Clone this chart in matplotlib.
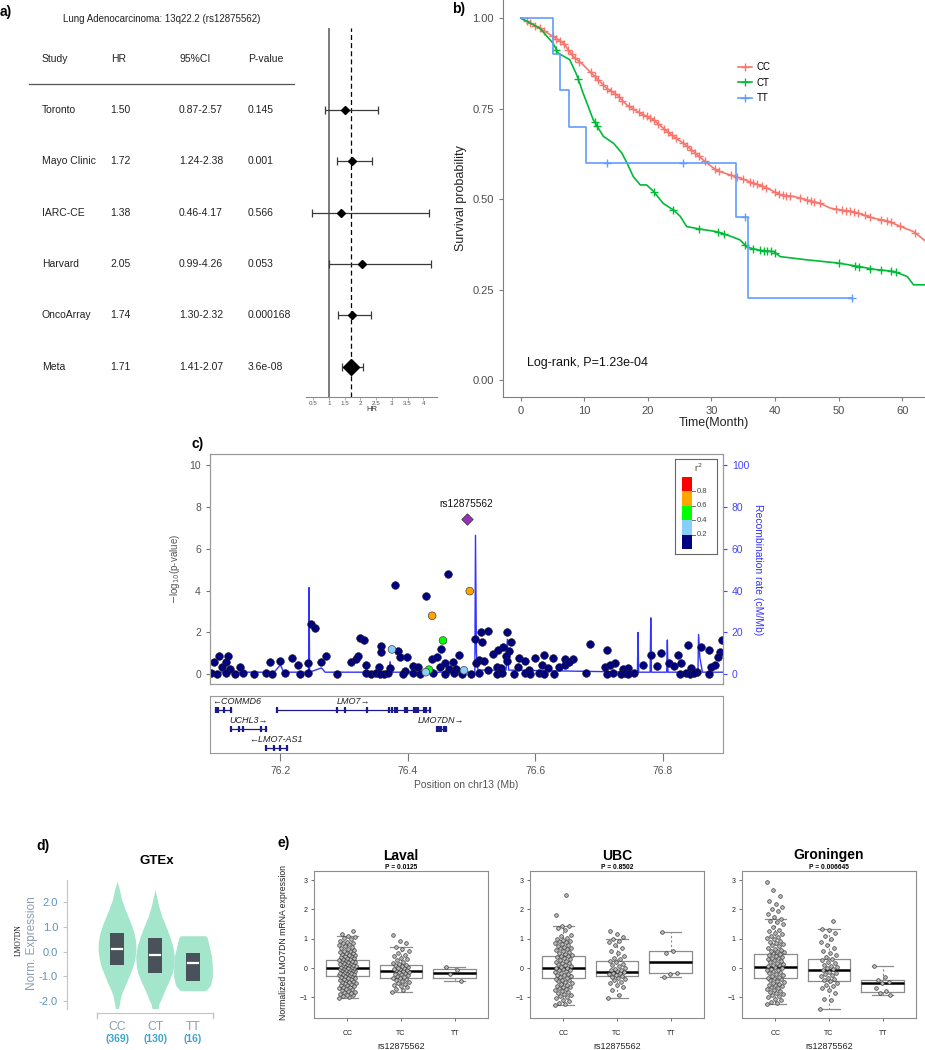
import numpy as np
import matplotlib
matplotlib.use("Agg")
import matplotlib.pyplot as plt
import matplotlib.transforms as mtransforms
from matplotlib.lines import Line2D
from matplotlib.patches import Rectangle

plt.rcParams["font.family"] = ["Liberation Sans", "DejaVu Sans"]

# ── a) forest plot data ─────────────────────────────────────────────────────
STUDIES = ["Toronto", "Mayo Clinic", "IARC-CE", "Harvard", "OncoArray", "Meta"]
HR = [1.50, 1.72, 1.38, 2.05, 1.74, 1.71]
CI_LO = [0.87, 1.24, 0.46, 0.99, 1.30, 1.41]
CI_HI = [2.57, 2.38, 4.17, 4.26, 2.32, 2.07]
PVAL = ["0.145", "0.001", "0.566", "0.053", "0.000168", "3.6e-08"]
HR_TICKS = [0.5, 1, 1.5, 2, 2.5, 3, 3.5, 4]

# ── b) Kaplan-Meier curves (read from picture) ──────────────────────────────
CC_T = [0, 3, 5.1, 6.7, 8.25, 9.8, 11.9, 13.5, 15.1, 16.7, 18.8, 20.9, 22.4, 24.0,
        25.6, 27.2, 28.7, 30.8, 32.9, 34.5, 36.6, 38.2, 39.8, 40.8, 43, 45, 47.1,
        48.7, 50.3, 52.4, 54, 55.5, 57.6, 59.8, 61.8, 63.6]
CC_S = [1.0, 0.972, 0.949, 0.931, 0.894, 0.871, 0.834, 0.806, 0.788, 0.76, 0.737,
        0.719, 0.696, 0.673, 0.654, 0.631, 0.608, 0.579, 0.567, 0.558, 0.544, 0.535,
        0.521, 0.512, 0.507, 0.498, 0.488, 0.475, 0.47, 0.465, 0.456, 0.447, 0.44,
        0.424, 0.41, 0.385]
CT_T = [0, 3, 5.1, 5.9, 7.7, 8.8, 9.8, 11.4, 13.0, 14.6, 15.9, 16.7, 17.7, 18.8,
        19.8, 20.9, 22.4, 24.0, 25.1, 26.1, 28.2, 30.8, 32.9, 34.5, 35.6, 37.7, 39.8,
        40.8, 45.0, 50.0, 53.4, 55.5, 58.7, 60.8, 61.8, 63.6]
CT_S = [1.0, 0.972, 0.93, 0.903, 0.885, 0.843, 0.793, 0.719, 0.673, 0.654, 0.627,
        0.60, 0.562, 0.539, 0.539, 0.521, 0.488, 0.47, 0.452, 0.424, 0.417, 0.41,
        0.398, 0.387, 0.367, 0.358, 0.355, 0.341, 0.332, 0.323, 0.313, 0.306, 0.30,
        0.286, 0.263, 0.263]
TT_T = [0, 5.1, 6.15, 7.6, 10.25, 33.8, 35.7, 52.1]
TT_S = [1.0, 0.9, 0.8, 0.7, 0.6, 0.45, 0.227, 0.227]
CC_CENSOR = [1, 1.5, 2.2, 3, 3.6, 5, 5.6, 6.2, 6.8, 7.5, 8, 8.6, 9.2, 11, 11.6, 12.2,
             13, 13.6, 14.2, 14.8, 15.4, 16, 17, 17.6, 18.6, 19.2, 19.8, 20.4, 21,
             21.6, 22.6, 23.2, 23.8, 24.4, 25.6, 26.2, 26.8, 27.4, 28, 29, 30.6, 31.2,
             33, 34, 35, 36, 36.6, 37.2, 38, 38.6, 40, 40.6, 41.2, 41.8, 42.4, 44, 45,
             45.6, 46.2, 47, 49.6, 50.6, 51.2, 51.8, 52.4, 53, 54.2, 55, 56.6, 57.6,
             58.2, 59.6, 62]
CT_CENSOR = [5.6, 9, 11.6, 12, 21, 24, 28, 31, 32, 35.2, 36.6, 37.6, 38.2, 38.8,
             39.4, 40, 50, 52.6, 53.2, 55, 56.6, 58.2, 59]
TT_CENSOR = [13.5, 25.5, 35.2, 52.1]
KM_GROUPS = ["CC", "CT", "TT"]
KM_COLORS = ["#F8766D", "#00BA38", "#619CFF"]

# ── c) regional association data ────────────────────────────────────────────
LEAD_POS, LEAD_LOGP, LEAD_NAME = 76.492, 7.44, "rs12875562"
LD_POS = [76.497, 76.438, 76.455, 76.433, 76.375, 76.428, 76.488]
LD_LOGP = [3.98, 2.80, 1.62, 0.22, 1.19, 0.10, 0.19]
LD_R2 = [0.7, 0.7, 0.5, 0.5, 0.3, 0.3, 0.3]
NAVY_POS = [76.463, 76.379, 76.428, 76.248, 76.255, 76.325, 76.331, 76.358, 76.357,
            76.384, 76.388, 76.398, 76.505, 76.515, 76.525, 76.517, 76.556, 76.562,
            76.685, 76.712, 76.839, 76.860, 76.872, 76.893, 76.452, 76.480, 76.549,
            76.533, 76.542, 76.558, 76.554, 76.574, 76.600, 76.614, 76.628, 76.646,
            76.659, 76.781, 76.797, 76.824, 76.809, 76.725, 76.889, 76.881, 76.887,
            76.103, 76.118, 76.095, 76.114, 76.108, 76.121, 76.136, 76.184, 76.200,
            76.218, 76.227, 76.244, 76.263, 76.272, 76.311, 76.319, 76.322, 76.335,
            76.354, 76.372, 76.396, 76.408, 76.416, 76.437, 76.446, 76.450, 76.458,
            76.470, 76.464, 76.476, 76.507, 76.512, 76.519, 76.526, 76.539, 76.546,
            76.556, 76.573, 76.584, 76.590, 76.610, 76.620, 76.637, 76.646, 76.653,
            76.709, 76.717, 76.738, 76.745, 76.769, 76.790, 76.818, 76.829, 76.844,
            76.854, 76.876,
            76.091, 76.100, 76.115, 76.129, 76.142, 76.159, 76.178, 76.187, 76.207,
            76.231, 76.243, 76.288, 76.335, 76.342, 76.350, 76.356, 76.363, 76.369,
            76.393, 76.408, 76.419, 76.440, 76.458, 76.473, 76.485, 76.499, 76.512,
            76.539, 76.548, 76.566, 76.584, 76.591, 76.605, 76.614, 76.629, 76.680,
            76.713, 76.722, 76.734, 76.740, 76.746, 76.755, 76.827, 76.836, 76.842,
            76.849, 76.872]
NAVY_LOGP = [4.79, 4.28, 3.74, 2.42, 2.21, 1.72, 1.62, 1.34, 1.05,
             1.10, 0.83, 0.83, 1.69, 2.02, 2.09, 1.53, 2.02, 1.53,
             1.45, 1.18, 1.39, 1.31, 1.18, 1.62, 1.23, 0.91, 1.31,
             0.96, 1.16, 1.11, 0.86, 0.80, 0.80, 0.91, 0.76, 0.75,
             0.75, 0.91, 1.00, 0.91, 0.56, 0.56, 1.05, 0.45, 0.84,
             0.86, 0.86, 0.60, 0.60, 0.37, 0.25, 0.33, 0.60, 0.65,
             0.80, 0.45, 0.53, 0.60, 0.88, 0.60, 0.75, 0.89, 0.45,
             0.37, 0.29, 0.18, 0.40, 0.33, 0.75, 0.84, 0.37, 0.53,
             0.59, 0.27, 0.25, 0.56, 0.68, 0.64, 0.21, 0.37, 0.29,
             0.65, 0.37, 0.64, 0.21, 0.45, 0.29, 0.37, 0.45, 0.59,
             0.37, 0.45, 0.27, 0.29, 0.45, 0.41, 0.40, 0.54, 0.29,
             0.13, 0.37,
             0.05, 0.02, 0.06, 0.03, 0.08, 0.02, 0.04, 0.01, 0.05,
             0.03, 0.06, 0.02, 0.04, 0.02, 0.05, 0.01, 0.03, 0.06,
             0.02, 0.04, 0.03, 0.05, 0.02, 0.06, 0.03, 0.01, 0.04,
             0.02, 0.05, 0.03, 0.06, 0.02, 0.04, 0.01, 0.03, 0.05,
             0.02, 0.06, 0.03, 0.04, 0.02, 0.05, 0.03, 0.06, 0.02,
             0.04, 0.03]
REC_POS = [76.09, 76.10, 76.19, 76.20, 76.205, 76.2443, 76.245, 76.2457, 76.264,
           76.266, 76.27, 76.37, 76.372, 76.374, 76.44, 76.505, 76.506, 76.5075,
           76.51, 76.554, 76.556, 76.558, 76.76, 76.761, 76.762, 76.78, 76.781,
           76.782, 76.806, 76.807, 76.808, 76.855, 76.856, 76.858, 76.862, 76.895]
REC_RATE = [2, 1, 1, 4.5, 1, 1, 41.5, 1, 3, 2.5, 1, 1, 6, 1, 1, 1, 66.5, 10, 2, 2,
            16.7, 2, 1, 20, 1, 1, 27, 1, 1, 16.4, 1, 1, 19, 8, 1, 1]
LD_BREAKS = [0.2, 0.4, 0.6, 0.8]
LD_COLORS = ["#000080", "#87CEFA", "#00FF00", "#FFA500", "#FF0000"]
GENE_NAMES = ["COMMD6", "LMO7", "UCHL3", "LMO7DN", "LMO7-AS1"]
GENE_START = [76.097, 76.195, 76.123, 76.446, 76.177]
GENE_END = [76.123, 76.434, 76.178, 76.459, 76.210]
GENE_STRAND = ["-", "+", "+", "+", "-"]
GENE_ROW = [0, 0, 1, 1, 2]
GENE_EXONS = [[76.099, 76.102, 76.112, 76.123],
              [76.195, 76.288, 76.302, 76.336, 76.371, 76.375, 76.380, 76.383,
               76.395, 76.398, 76.409, 76.412, 76.416, 76.425, 76.429, 76.434],
              [76.123, 76.135, 76.141, 76.169, 76.178],
              [76.446, 76.449, 76.452, 76.456, 76.459],
              [76.177, 76.190, 76.200, 76.210]]
POS_TICKS = [76.2, 76.4, 76.6, 76.8]

# ── d) GTEx violins ─────────────────────────────────────────────────────────
GT_GROUPS = ["CC", "CT", "TT"]
GT_N = [369, 130, 16]
CC_VY = [2.84, 2.5, 2.1, 1.76, 1.42, 1.08, 0.74, 0.41, 0.07, -0.27, -0.6, -0.94,
         -1.28, -1.55, -1.8, -2.1, -2.3]
CC_VW = [0.0, 0.065, 0.12, 0.2, 0.29, 0.38, 0.45, 0.49, 0.5, 0.47, 0.42, 0.33,
         0.24, 0.16, 0.1, 0.065, 0.04]
CT_VY = [2.5, 2.23, 1.82, 1.42, 1.01, 0.61, 0.2, -0.2, -0.61, -0.88, -1.22, -1.55,
         -1.89, -2.12, -2.3]
CT_VW = [0.0, 0.04, 0.1, 0.18, 0.29, 0.39, 0.47, 0.51, 0.49, 0.45, 0.36, 0.26,
         0.17, 0.1, 0.08]
TT_VY = [0.64, 0.58, 0.2, -0.2, -0.61, -1.01, -1.35, -1.53, -1.58]
TT_VW = [0.32, 0.37, 0.43, 0.49, 0.51, 0.51, 0.46, 0.37, 0.32]
GT_Q3 = [0.77, 0.54, -0.07]
GT_MED = [0.11, -0.14, -0.45]
GT_Q1 = [-0.53, -0.88, -1.18]

# ── e) eQTL boxplots ────────────────────────────────────────────────────────
COHORTS = ["Laval", "UBC", "Groningen"]
COHORT_P = ["P = 0.0125", "P = 0.8502", "P = 0.006645"]
EQ_GROUPS = ["CC", "TC", "TT"]
EQ_MED = [[0.02, -0.10, -0.15], [0.02, -0.14, 0.20], [0.03, -0.08, -0.50]]
EQ_Q1 = [[-0.27, -0.32, -0.35], [-0.34, -0.27, -0.18], [-0.35, -0.44, -0.80]]
EQ_Q3 = [[0.28, 0.12, -0.02], [0.43, 0.25, 0.58], [0.47, 0.32, -0.40]]
EQ_WLO = [[-1.03, -0.82, -0.45], [-1.27, -1.03, -0.30], [-1.22, -1.38, -0.90]]
EQ_WHI = [[1.10, 0.72, 0.03], [1.45, 0.98, 1.23], [1.66, 1.35, 0.06]]
LAVAL_CC = [-1.03, -0.97, -0.94, -0.92, -0.9, -0.88, -0.86, -0.83, -0.8, -0.78, -0.75,
            -0.72, -0.7, -0.68, -0.66, -0.63, -0.6, -0.58, -0.56, -0.54, -0.52, -0.5,
            -0.48, -0.46, -0.44, -0.42, -0.4, -0.38, -0.36, -0.34, -0.32, -0.3, -0.28,
            -0.27, -0.25, -0.23, -0.21, -0.2, -0.18, -0.16, -0.15, -0.13, -0.11, -0.1,
            -0.08, -0.06, -0.05, -0.03, -0.02, 0.0, 0.01, 0.02, 0.03, 0.05, 0.06, 0.08,
            0.09, 0.11, 0.12, 0.14, 0.15, 0.17, 0.18, 0.2, 0.21, 0.23, 0.25, 0.27, 0.28,
            0.3, 0.32, 0.34, 0.36, 0.38, 0.4, 0.42, 0.44, 0.46, 0.48, 0.5, 0.52, 0.55,
            0.58, 0.6, 0.63, 0.66, 0.69, 0.72, 0.75, 0.78, 0.81, 0.84, 0.87, 0.9, 0.94,
            0.98, 1.02, 1.06, 1.1, 1.16, 1.27]
LAVAL_TC = [-0.82, -0.75, -0.7, -0.66, -0.62, -0.58, -0.54, -0.5, -0.47, -0.44, -0.41,
            -0.38, -0.35, -0.32, -0.3, -0.27, -0.24, -0.21, -0.19, -0.16, -0.14, -0.12,
            -0.1, -0.08, -0.06, -0.04, -0.02, 0.0, 0.02, 0.05, 0.08, 0.1, 0.12, 0.15,
            0.18, 0.22, 0.26, 0.3, 0.35, 0.4, 0.46, 0.52, 0.6, 0.66, 0.72, 0.85, 0.92,
            1.12]
LAVAL_TT = [0.03, -0.08, -0.2, -0.45]
UBC_CC = [-1.27, -1.22, -1.18, -1.12, -1.07, -1.03, -1.0, -0.96, -0.92, -0.88, -0.85,
          -0.81, -0.78, -0.75, -0.72, -0.69, -0.66, -0.63, -0.6, -0.57, -0.54, -0.51,
          -0.48, -0.45, -0.42, -0.39, -0.36, -0.34, -0.31, -0.28, -0.25, -0.22, -0.19,
          -0.16, -0.13, -0.1, -0.08, -0.05, -0.03, 0.0, 0.02, 0.04, 0.07, 0.1, 0.13,
          0.16, 0.19, 0.22, 0.25, 0.28, 0.31, 0.34, 0.37, 0.4, 0.43, 0.46, 0.49, 0.52,
          0.55, 0.58, 0.61, 0.64, 0.67, 0.7, 0.73, 0.76, 0.79, 0.82, 0.85, 0.88, 0.91,
          0.94, 0.97, 1.0, 1.04, 1.08, 1.12, 1.3, 1.38, 1.42, 1.45, 1.8, 2.5]
UBC_TC = [-1.03, -0.9, -0.75, -0.65, -0.58, -0.52, -0.47, -0.42, -0.38, -0.34, -0.3,
          -0.27, -0.24, -0.21, -0.18, -0.15, -0.13, -0.11, -0.08, -0.05, -0.02, 0.02,
          0.06, 0.1, 0.15, 0.2, 0.25, 0.3, 0.35, 0.4, 0.5, 0.6, 0.7, 0.8, 0.88, 0.93,
          0.98, 1.05, 1.15, 1.25]
UBC_TT = [1.23, 0.58, 0.52, -0.15, -0.2, -0.3]
GRON_CC = [-1.22, -1.18, -1.14, -1.1, -1.05, -1.0, -0.96, -0.92, -0.88, -0.84, -0.8,
           -0.77, -0.74, -0.71, -0.68, -0.65, -0.62, -0.59, -0.56, -0.53, -0.5, -0.47,
           -0.44, -0.41, -0.38, -0.35, -0.32, -0.29, -0.26, -0.23, -0.2, -0.17, -0.14,
           -0.11, -0.08, -0.05, -0.02, 0.0, 0.03, 0.06, 0.09, 0.12, 0.15, 0.18, 0.21,
           0.24, 0.27, 0.3, 0.33, 0.36, 0.39, 0.42, 0.45, 0.48, 0.51, 0.54, 0.57, 0.6,
           0.63, 0.66, 0.7, 0.74, 0.78, 0.82, 0.86, 0.9, 0.94, 0.98, 1.02, 1.06, 1.1,
           1.15, 1.2, 1.25, 1.3, 1.4, 1.5, 1.58, 1.62, 1.66, 1.75, 1.85, 1.95, 2.02,
           2.1, 2.2, 2.3, 2.45, 2.65, 2.95]
GRON_TC = [-1.38, -1.1, -1.05, -0.85, -0.75, -0.68, -0.62, -0.56, -0.5, -0.45, -0.4,
           -0.36, -0.32, -0.28, -0.24, -0.2, -0.16, -0.12, -0.08, -0.04, 0.0, 0.04,
           0.08, 0.12, 0.17, 0.22, 0.27, 0.32, 0.38, 0.45, 0.52, 0.6, 0.7, 0.8, 0.9,
           1.0, 1.1, 1.2, 1.3, 1.35, 1.6]
GRON_TT = [0.06, -0.3, -0.42, -0.48, -0.52, -0.68, -0.78, -0.85, -0.9]
EQ_POINTS = [[LAVAL_CC, LAVAL_TC, LAVAL_TT],
             [UBC_CC, UBC_TC, UBC_TT],
             [GRON_CC, GRON_TC, GRON_TT]]

# ── figure ──────────────────────────────────────────────────────────────────
W, H = 925, 1050
fig = plt.figure(figsize=(W / 100, H / 100), dpi=100)


def px_axes(l, t, r, b):
    return fig.add_axes([l / W, 1 - b / H, (r - l) / W, (b - t) / H])


def ftext(x, y, s, **kw):
    return fig.text(x / W, 1 - y / H, s, **kw)


# ── a) forest ───────────────────────────────────────────────────────────────
axa = px_axes(306, 28.3, 437.3, 396.7)
rows = np.arange(len(STUDIES))
hr, lo, hi = np.array(HR), np.array(CI_LO), np.array(CI_HI)
axa.set_xlim(0.268, 4.445)
axa.set_ylim(5.585, -1.59)
axa.axvline(1, color="#7a7a7a", lw=1.4, zorder=1)
axa.axvline(hr[-1], color="black", lw=0.9, ls=(0, (4, 2.5)), zorder=1)
axa.errorbar(hr, rows, xerr=[hr - lo, hi - hr], fmt="none", ecolor="#3a3a3a",
             elinewidth=0.9, capsize=3, capthick=0.9, zorder=2)
axa.plot(hr[:-1], rows[:-1], "D", color="black", ms=3.6, zorder=3)
axa.plot(hr[-1:], rows[-1:], "D", color="black", ms=8.5, zorder=3)
for s in ["top", "right", "left"]:
    axa.spines[s].set_visible(False)
axa.spines["bottom"].set_color("#8a8a8a")
axa.set_yticks([])
axa.set_xticks(HR_TICKS)
axa.set_xticklabels([f"{t:g}" for t in HR_TICKS])
axa.tick_params(axis="x", length=2, width=0.5, pad=1, colors="#8a8a8a",
                labelcolor="#555555", labelsize=4.5)
axa.set_xlabel("HR", fontsize=5.5, labelpad=0, color="#333333")

trans = mtransforms.blended_transform_factory(fig.transFigure, axa.transData)
col_x = [41.7, 110.7, 179, 247.7]
for x, head in zip(col_x, ["Study", "HR", "95%CI", "P-value"]):
    fig.text(x / W, -1, head, transform=trans, va="center", fontsize=7.5, color="#222222")
fig.add_artist(Line2D([29.3 / W, 294 / W], [-0.5, -0.5], transform=trans,
                      color="#555555", lw=0.9))
for i in rows:
    vals = [STUDIES[i], f"{HR[i]:.2f}", f"{CI_LO[i]:.2f}-{CI_HI[i]:.2f}", PVAL[i]]
    for x, v in zip(col_x, vals):
        fig.text(x / W, i, v, transform=trans, va="center", fontsize=7.5, color="#222222")
ftext(63.3, 19, "Lung Adenocarcinoma: 13q22.2 (rs12875562)", fontsize=7, va="center",
      color="#222222")
ftext(0, 12, "a)", fontsize=10, fontweight="bold", va="center")

# ── b) Kaplan-Meier ─────────────────────────────────────────────────────────
axb = px_axes(503, 0, 925, 397)
axb.set_xlim(-2.8, 63.6)
axb.set_ylim(-0.047, 1.05)
curves = [(CC_T, CC_S, CC_CENSOR), (CT_T, CT_S, CT_CENSOR)]
for (t, s, cens), col in zip(curves, KM_COLORS[:2]):
    axb.plot(t, s, color=col, lw=1.2)
    axb.plot(cens, np.interp(cens, t, s), "+", color=col, ms=6, mew=1.0)
axb.step(TT_T, TT_S, where="post", color=KM_COLORS[2], lw=1.2)
tt_idx = np.searchsorted(TT_T, TT_CENSOR, side="right") - 1
axb.plot(TT_CENSOR, np.array(TT_S)[tt_idx], "+", color=KM_COLORS[2], ms=6, mew=1.0)
for s in ["top", "right"]:
    axb.spines[s].set_visible(False)
for s in ["left", "bottom"]:
    axb.spines[s].set_color("#7f7f7f")
axb.set_xticks([0, 10, 20, 30, 40, 50, 60])
axb.set_yticks([0, 0.25, 0.5, 0.75, 1.0])
axb.set_yticklabels([f"{v:.2f}" for v in [0, 0.25, 0.5, 0.75, 1.0]])
axb.tick_params(labelsize=8, colors="#7f7f7f", labelcolor="#4d4d4d", length=3)
axb.set_ylabel("Survival probability", fontsize=9, color="#222222", labelpad=4)
axb.set_xlabel("Time(Month)", fontsize=9, color="#222222", labelpad=1)
axb.text(0.9, 0.048, "Log-rank, P=1.23e-04", fontsize=9, va="center", color="#111111")
handles = [Line2D([], [], color=c, marker="+", ms=6, lw=1.2) for c in KM_COLORS]
axb.legend(handles, KM_GROUPS, loc="upper left", bbox_to_anchor=(0.545, 0.855),
           frameon=False, fontsize=7, handlelength=1.5, labelspacing=0.55,
           borderpad=0, handletextpad=0.4)
ftext(452, 9, "b)", fontsize=10, fontweight="bold", va="center")

# ── c) regional association ─────────────────────────────────────────────────
XLIM_C = (76.0895, 76.894)
axc = px_axes(210, 454.3, 722.8, 684.3)
axc.set_xlim(*XLIM_C)
axc.set_ylim(-0.48, 10.53)
axc.plot(REC_POS, np.array(REC_RATE) / 10.0, color="#3333ff", lw=1.0, zorder=1)
axc.scatter(NAVY_POS, NAVY_LOGP, s=31, color=LD_COLORS[0], edgecolor="#222222",
            linewidth=0.4, zorder=2)
ld_cols = [LD_COLORS[k] for k in np.digitize(LD_R2, LD_BREAKS)]
axc.scatter(LD_POS, LD_LOGP, s=31, c=ld_cols, edgecolor="#444444", linewidth=0.5, zorder=3)
axc.scatter([LEAD_POS], [LEAD_LOGP], s=34, marker="D", color="#9632B8",
            edgecolor="#333333", linewidth=0.5, zorder=4)
axc.text(LEAD_POS, LEAD_LOGP + 0.45, LEAD_NAME, ha="center", va="bottom", fontsize=7.3,
         color="#111111")
axc.set_xticks([])
axc.set_yticks([0, 2, 4, 6, 8, 10])
axc.tick_params(axis="y", labelsize=7.5, colors="#777777", labelcolor="#555555", length=3)
axc.set_ylabel(r"$-$log$_{10}$(p-value)", fontsize=7, color="#555555", labelpad=5)
for s in axc.spines.values():
    s.set_color("#999999")
axc2 = axc.twinx()
axc2.set_ylim(-4.8, 105.3)
axc2.set_yticks([0, 20, 40, 60, 80, 100])
axc2.tick_params(axis="y", labelsize=7.5, colors="#4444ff", length=3)
axc2.set_ylabel("Recombination rate (cM/Mb)", fontsize=7.5, color="#3333ff",
                rotation=270, labelpad=10)
for s in axc2.spines.values():
    s.set_color("#999999")

# r^2 legend
axl = px_axes(675, 459, 717, 554)
axl.set_xlim(0, 1)
axl.set_ylim(0, 1)
axl.set_xticks([])
axl.set_yticks([])
for s in axl.spines.values():
    s.set_color("#666666")
    s.set_linewidth(0.8)
blk_bottom, blk_h = (554 - 549.3) / 95, (549.3 - 476.7) / 95 / 5
for k, col in enumerate(LD_COLORS):
    axl.add_patch(Rectangle((0.17, blk_bottom + k * blk_h), 0.23, blk_h, color=col, lw=0))
for k, b in enumerate(LD_BREAKS):
    yb = blk_bottom + (k + 1) * blk_h
    axl.plot([0.40, 0.48], [yb, yb], color="#555555", lw=0.6)
    axl.text(0.52, yb, f"{b:.1f}", fontsize=5.5, va="center", color="#444444")
axl.text(0.55, 0.91, r"r$^2$", fontsize=6.5, ha="center", va="center", color="#444444")
ftext(192, 444, "c)", fontsize=10, fontweight="bold", va="center")

# gene track
axg = px_axes(210, 696, 722.8, 753)
axg.set_xlim(*XLIM_C)
axg.set_ylim(0, 1)
row_y = [0.754, 0.42, 0.088]
gene_col = "#1a1a8c"
for name, g0, g1, strand, row, ex in zip(GENE_NAMES, GENE_START, GENE_END,
                                         GENE_STRAND, GENE_ROW, GENE_EXONS):
    y = row_y[row]
    axg.plot([g0, g1], [y, y], color=gene_col, lw=0.9)
    axg.plot(ex, [y] * len(ex), ls="none", marker="|", ms=4, mew=1.6, color=gene_col)
    label = ("\u2190" + name) if strand == "-" else (name + "\u2192")
    mid = (g0 + g1) / 2
    if mid - 0.04 < XLIM_C[0]:
        axg.text(XLIM_C[0] + 0.003, y + 0.07, label, fontsize=6.5, style="italic",
                 ha="left", va="bottom", color="#222222")
    else:
        axg.text(mid, y + 0.07, label, fontsize=6.5, style="italic", ha="center",
                 va="bottom", color="#222222")
axg.set_yticks([])
axg.set_xticks(POS_TICKS)
axg.set_xticklabels([f"{p:.1f}" for p in POS_TICKS])
axg.tick_params(axis="x", labelsize=7.5, colors="#777777", labelcolor="#555555",
                length=6, pad=3)
axg.set_xlabel("Position on chr13 (Mb)", fontsize=7.5, color="#555555", labelpad=3)
for s in axg.spines.values():
    s.set_color("#999999")

# ── d) GTEx violins ─────────────────────────────────────────────────────────
axd = px_axes(67, 880, 213, 1013)
axd.set_xlim(-1.316, 2.526)
axd.set_ylim(-2.48, 2.89)
violins = [(CC_VY, CC_VW), (CT_VY, CT_VW), (TT_VY, TT_VW)]
for k, (vy, vw) in enumerate(violins):
    vw = np.array(vw)
    axd.fill_betweenx(vy, k - vw, k + vw, color="#a3e6cc", lw=0)
    axd.add_patch(Rectangle((k - 0.175, GT_Q1[k]), 0.35, GT_Q3[k] - GT_Q1[k],
                            color="#49525a", lw=0))
    axd.plot([k - 0.12, k + 0.12], [GT_MED[k]] * 2, color="white", lw=1.6)
for s in ["top", "right"]:
    axd.spines[s].set_visible(False)
axd.spines["left"].set_bounds(-2.32, 2.89)
axd.spines["bottom"].set_bounds(-0.526, 2.526)
for s in ["left", "bottom"]:
    axd.spines[s].set_color("#c4c4c4")
axd.set_yticks([2, 1, 0, -1, -2])
axd.set_yticklabels(["2.0", "1.0", "0.0", "-1.0", "-2.0"])
axd.tick_params(axis="y", labelsize=8, colors="#c4c4c4", labelcolor="#5f93ba", length=3)
axd.set_xticks([])
axd.plot([-0.526, -0.526], [-2.48, -2.7], color="#c4c4c4", lw=1, clip_on=False)
axd.plot([2.526, 2.526], [-2.48, -2.7], color="#c4c4c4", lw=1, clip_on=False)
tr_d = mtransforms.blended_transform_factory(axd.transData, fig.transFigure)
for k, (g, n) in enumerate(zip(GT_GROUPS, GT_N)):
    axd.text(k, 1 - 1027 / H, g, transform=tr_d, ha="center", va="center",
             fontsize=8.8, color="#8d9db0")
    axd.text(k, 1 - 1039.5 / H, f"({n})", transform=tr_d, ha="center", va="center",
             fontsize=7.5, color="#3ea3cf", fontweight="bold")
ftext(32, 943, "Norm. Expression", rotation=90, ha="center", va="center",
      fontsize=8.5, color="#8d9db0")
ftext(19, 940, "LMO7DN", rotation=90, ha="center", va="center", fontsize=5.5,
      family=["Liberation Serif", "DejaVu Serif"], color="#111111")
ftext(157, 861, "GTEx", ha="center", va="center", fontsize=9.5, fontweight="bold")
ftext(43, 846, "d)", fontsize=10, fontweight="bold", va="center", ha="center")

# ── e) eQTL boxplots ────────────────────────────────────────────────────────
e_boxes = [(314, 488), (530, 704), (742, 916)]
for c, (l, r) in enumerate(e_boxes):
    ax = px_axes(l, 871, r, 1018)
    stats = [dict(med=EQ_MED[c][g], q1=EQ_Q1[c][g], q3=EQ_Q3[c][g],
                  whislo=EQ_WLO[c][g], whishi=EQ_WHI[c][g]) for g in range(3)]
    ax.bxp(stats, positions=[1, 2, 3], widths=0.8, capwidths=0.4, showfliers=False,
           boxprops=dict(color="#8c8c8c", lw=0.9),
           whiskerprops=dict(color="#8c8c8c", lw=0.8, ls=(0, (2, 2))),
           capprops=dict(color="#8c8c8c", lw=0.9),
           medianprops=dict(color="black", lw=1.8))
    for g in range(3):
        pts = np.array(EQ_POINTS[c][g])
        jit = ((np.arange(len(pts)) * 0.6180339887) % 1.0 - 0.5) * 0.32
        ax.plot(g + 1 + jit, pts, "o", ms=2.6, mfc="#bdbdbd", mec="#3a3a3a", mew=0.5,
                zorder=3)
    ax.set_xlim(0.38, 3.62)
    ax.set_ylim(-1.70, 3.31)
    ax.set_xticks([1, 2, 3])
    ax.set_xticklabels(EQ_GROUPS)
    ax.set_yticks([-1, 0, 1, 2, 3])
    ax.tick_params(labelsize=5, length=2.5, width=0.6, colors="#555555",
                   labelcolor="#222222", pad=2)
    ax.tick_params(axis="x", pad=6)
    for s in ax.spines.values():
        s.set_color("#8c8c8c")
    ax.set_xlabel("rs12875562", fontsize=6.5, labelpad=4, color="#222222")
    ax.set_title(COHORT_P[c], fontsize=4.8, fontweight="bold", pad=1.5)
    ftext((l + r) / 2, 855.5, COHORTS[c], ha="center", va="center", fontsize=10,
          fontweight="bold")
ftext(284, 943, "Normalized LMO7DN mRNA expression", rotation=90, ha="center",
      va="center", fontsize=6.2, color="#222222")
ftext(284, 843, "e)", fontsize=10, fontweight="bold", va="center", ha="center")

fig.savefig("out.png", dpi=100)
